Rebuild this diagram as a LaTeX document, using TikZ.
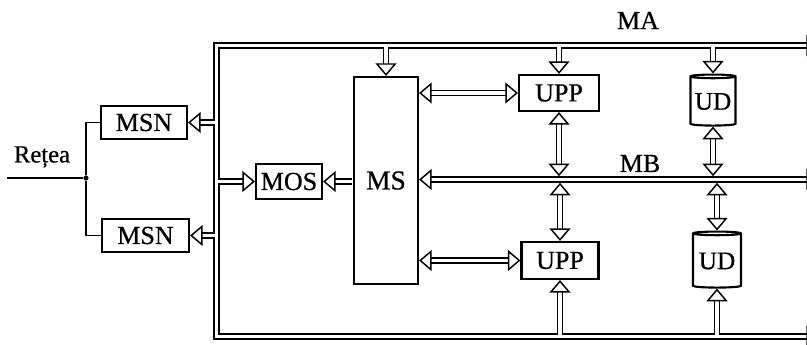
\documentclass[tikz,border=0pt]{standalone}
\usepackage{fontspec}
\setmainfont{Liberation Serif}[FakeBold=0.6]
\usetikzlibrary{arrows.meta,positioning,shapes.geometric}
\tikzset{
  unitbox/.style={draw,line width=1.5pt,fill=white,inner sep=0pt,font=\fontsize{18.5pt}{20pt}\selectfont},
  diskunit/.style={cylinder,shape border rotate=90,aspect=0.1,draw,line width=1.5pt,fill=white,inner sep=0pt,font=\fontsize{18pt}{20pt}\selectfont},
  busline/.style={line width=1.05pt,double,double distance=2.4pt},
  busarrow/.style={busline,-{Triangle[open,length=9pt,width=15pt]}},
  busboth/.style={busline,{Triangle[open,length=9pt,width=15pt]}-{Triangle[open,length=9pt,width=15pt]}},
  wire/.style={line width=0.9pt},
  junction/.style={circle,fill,inner sep=1.3pt},
  buslabel/.style={font=\fontsize{18.5pt}{20pt}\selectfont}
}

\begin{document}
\begin{tikzpicture}[x=0.025cm,y=-0.025cm]
  \useasboundingbox (0,0) rectangle (807,344);
  \clip (0,0) rectangle (807,344);
  % bus coordinates
  \coordinate (maTopEnd) at (819,45.5);
  \coordinate (maTopLeft) at (216.5,45.5);
  \coordinate (maBotLeft) at (216.5,336.5);
  \coordinate (maBotEnd) at (819,336.5);
  \coordinate (maTopIn) at (0,47.2);
  \coordinate (maBotIn) at (0,334.8);
  \coordinate (maLeftOut) at (214.8,0);
  \coordinate (maLeftIn) at (218.2,0);
  \coordinate (mbMid) at (0,179.5);
  \coordinate (mbEnd) at (819,179.5);
  \coordinate (mbUp) at (0,176.2);
  \coordinate (mbDown) at (0,182.8);
  % units
  \node[unitbox,minimum width=1.6cm,minimum height=5.175cm,font=\fontsize{19.5pt}{21pt}\selectfont] (ms) at (386,180.5) {MS};
  \node[unitbox,minimum width=1.65cm,minimum height=0.875cm] (mos) at (289,181.5) {MOS};
  \node[unitbox,minimum width=2.15cm,minimum height=0.825cm] (msn1) at (144,122.5) {MSN};
  \node[unitbox,minimum width=2.175cm,minimum height=0.825cm] (msn2) at (145.5,235.5) {MSN};
  \node[unitbox,minimum width=2.0cm,minimum height=0.9cm] (upp1) at (559,93) {UPP};
  \node[unitbox,minimum width=1.925cm,minimum height=0.925cm] (upp2) at (560,260.5) {UPP};
  \node[diskunit,minimum width=1.125cm,minimum height=1.275cm] (ud1) at (713,101.5) {UD};
  \node[diskunit,minimum width=1.2cm,minimum height=1.4cm] (ud2) at (717,261) {UD};
  % buses MA and MB
  \draw[busboth] (maTopEnd) -- (maTopLeft) -- (maBotLeft) -- (maBotEnd);
  \draw[busboth] (ms.east |- mbMid) -- (mbEnd);
  \node[buslabel] (ma) at (638,20.5) {MA};
  \node[buslabel] (mb) at (640,163.5) {MB};
  % connections to the buses
  \draw[busarrow] (maLeftOut |- msn1.east) -- (msn1.east);
  \draw[busarrow] (maLeftOut |- msn2.east) -- (msn2.east);
  \draw[busarrow] (maLeftIn |- mos.west) -- (mos.west);
  \draw[busarrow,shorten <=0.75pt] (ms.west |- mos) -- (mos.east);
  \draw[busarrow] (ms.north |- maTopIn) -- (ms.north);
  \draw[busarrow] (upp1.north |- maTopIn) -- (upp1.north);
  \draw[busarrow] (ud1.north |- maTopIn) -- (ud1.north);
  \draw[busboth] (ms.east |- upp1) -- (upp1.west);
  \draw[busboth] (ms.east |- upp2) -- (upp2.west);
  \draw[busboth] (upp1.south) -- (upp1.south |- mbUp);
  \draw[busboth] (ud1.south) -- (ud1.south |- mbUp);
  \draw[busboth] (upp2.north |- mbDown) -- (upp2.north);
  \draw[busboth] (ud2.north |- mbDown) -- (ud2.north);
  \draw[busarrow] (upp2.south |- maBotIn) -- (upp2.south);
  \draw[busarrow] (ud2.south |- maBotIn) -- (ud2.south);
  % network
  \coordinate (netIn) at (7,178);
  \node[junction] (tap) at (86,178) {};
  \draw[wire] (netIn) -- (tap);
  \draw[wire] (msn1.west) -| (tap) |- (msn2.west);
  \node[buslabel,font=\fontsize{17.5pt}{19pt}\selectfont] (net) at (42,157) {Rețea};
\end{tikzpicture}
\end{document}
